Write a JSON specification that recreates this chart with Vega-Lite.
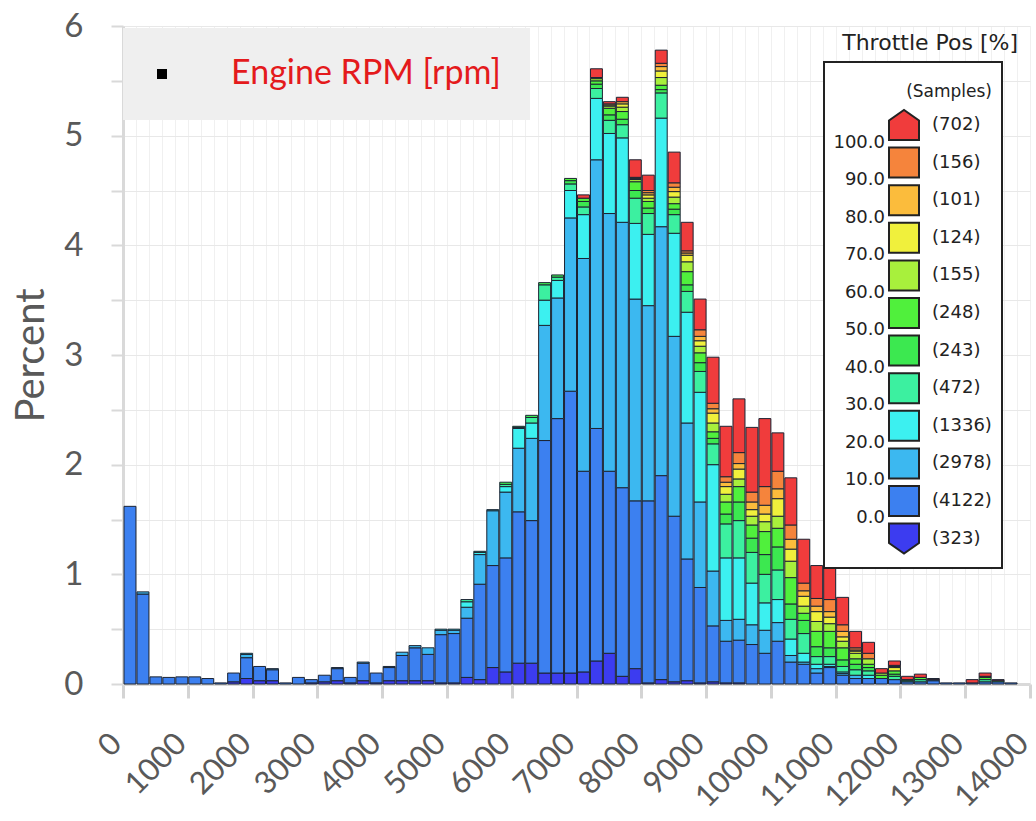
{
  "$schema": "https://vega.github.io/schema/vega-lite/v6.json",
  "width": 907,
  "height": 658,
  "autosize": {"type": "none"},
  "padding": {"left": 123, "top": 26, "right": 6, "bottom": 137},
  "background": "white",
  "title": {"text": "Throttle Pos [%]", "anchor": "end", "frame": "group", "orient": "top", "offset": 0, "dy": 45, "dx": -12, "font": "DejaVu Sans", "fontSize": 22, "fontWeight": "normal", "color": "#222222"},
  "config": {"view": {"stroke": null}},
  "layer": [
    {
      "data": {"values": [
        {"rpm": 0, "b01": 1.62},
        {"rpm": 200, "b01": 0.82, "b02": 0.02},
        {"rpm": 400, "b01": 0.065},
        {"rpm": 600, "b01": 0.06},
        {"rpm": 800, "b01": 0.065},
        {"rpm": 1000, "b01": 0.065},
        {"rpm": 1200, "b01": 0.05},
        {"rpm": 1400, "b01": 0.01},
        {"rpm": 1600, "b00": 0.02, "b01": 0.08},
        {"rpm": 1800, "b00": 0.05, "b01": 0.19, "b02": 0.03, "b03": 0.01},
        {"rpm": 2000, "b00": 0.03, "b01": 0.13},
        {"rpm": 2200, "b00": 0.03, "b01": 0.10, "b02": 0.01},
        {"rpm": 2400, "b01": 0.01},
        {"rpm": 2600, "b01": 0.06},
        {"rpm": 2800, "b00": 0.01, "b01": 0.03},
        {"rpm": 3000, "b00": 0.02, "b01": 0.06},
        {"rpm": 3200, "b00": 0.03, "b01": 0.11, "b02": 0.01},
        {"rpm": 3400, "b00": 0.01, "b01": 0.05},
        {"rpm": 3600, "b00": 0.03, "b01": 0.16, "b02": 0.01},
        {"rpm": 3800, "b00": 0.01, "b01": 0.09},
        {"rpm": 4000, "b00": 0.03, "b01": 0.12, "b02": 0.01},
        {"rpm": 4200, "b00": 0.03, "b01": 0.23, "b02": 0.03},
        {"rpm": 4400, "b00": 0.03, "b01": 0.30, "b02": 0.02},
        {"rpm": 4600, "b00": 0.03, "b01": 0.24, "b02": 0.06},
        {"rpm": 4800, "b00": 0.01, "b01": 0.44, "b02": 0.04, "b03": 0.01},
        {"rpm": 5000, "b00": 0.01, "b01": 0.45, "b02": 0.03, "b03": 0.01},
        {"rpm": 5200, "b00": 0.06, "b01": 0.54, "b02": 0.10, "b03": 0.05, "b04": 0.02},
        {"rpm": 5400, "b00": 0.04, "b01": 0.87, "b02": 0.27, "b03": 0.02, "b04": 0.01},
        {"rpm": 5600, "b00": 0.15, "b01": 0.93, "b02": 0.50, "b03": 0.01},
        {"rpm": 5800, "b00": 0.11, "b01": 1.04, "b02": 0.60, "b03": 0.05, "b04": 0.02, "b05": 0.02},
        {"rpm": 6000, "b00": 0.19, "b01": 1.38, "b02": 0.58, "b03": 0.18, "b04": 0.01, "b05": 0.01},
        {"rpm": 6200, "b00": 0.19, "b01": 1.30, "b02": 0.75, "b03": 0.14, "b04": 0.05, "b05": 0.02},
        {"rpm": 6400, "b00": 0.10, "b01": 2.12, "b02": 1.05, "b03": 0.23, "b04": 0.14, "b05": 0.02},
        {"rpm": 6600, "b00": 0.10, "b01": 2.32, "b02": 1.10, "b03": 0.16, "b04": 0.03, "b05": 0.02},
        {"rpm": 6800, "b00": 0.10, "b01": 2.57, "b02": 1.58, "b03": 0.25, "b04": 0.06, "b05": 0.03, "b06": 0.02},
        {"rpm": 7000, "b00": 0.11, "b01": 1.83, "b02": 1.94, "b03": 0.40, "b04": 0.07, "b05": 0.05, "b06": 0.03, "b11": 0.03},
        {"rpm": 7200, "b00": 0.21, "b01": 2.12, "b02": 2.45, "b03": 0.56, "b04": 0.09, "b05": 0.04, "b06": 0.03, "b07": 0.02, "b08": 0.01, "b11": 0.08},
        {"rpm": 7400, "b00": 0.28, "b01": 1.66, "b02": 2.35, "b03": 0.73, "b04": 0.12, "b05": 0.05, "b06": 0.06, "b07": 0.02, "b08": 0.01, "b09": 0.01, "b11": 0.02},
        {"rpm": 7600, "b00": 0.07, "b01": 1.72, "b02": 2.42, "b03": 0.77, "b04": 0.12, "b05": 0.05, "b06": 0.07, "b07": 0.04, "b08": 0.03, "b09": 0.02, "b11": 0.04},
        {"rpm": 7800, "b00": 0.14, "b01": 1.53, "b02": 1.84, "b03": 0.69, "b04": 0.23, "b05": 0.07, "b06": 0.08, "b07": 0.02, "b08": 0.01, "b09": 0.01, "b11": 0.16},
        {"rpm": 8000, "b00": 0.01, "b01": 1.66, "b02": 1.78, "b03": 0.65, "b04": 0.19, "b05": 0.05, "b06": 0.06, "b07": 0.03, "b08": 0.03, "b09": 0.02, "b10": 0.02, "b11": 0.14},
        {"rpm": 8200, "b00": 0.04, "b01": 1.86, "b02": 2.27, "b03": 0.99, "b04": 0.23, "b05": 0.03, "b06": 0.04, "b07": 0.07, "b08": 0.06, "b09": 0.04, "b10": 0.03, "b11": 0.12},
        {"rpm": 8400, "b00": 0.02, "b01": 1.51, "b02": 1.64, "b03": 0.94, "b04": 0.17, "b05": 0.05, "b06": 0.05, "b07": 0.06, "b08": 0.05, "b09": 0.04, "b10": 0.04, "b11": 0.28},
        {"rpm": 8600, "b00": 0.03, "b01": 1.11, "b02": 1.24, "b03": 1.01, "b04": 0.19, "b05": 0.06, "b06": 0.12, "b07": 0.09, "b08": 0.06, "b09": 0.02, "b10": 0.02, "b11": 0.26},
        {"rpm": 8800, "b00": 0.01, "b01": 0.87, "b02": 0.78, "b03": 1.00, "b04": 0.19, "b05": 0.08, "b06": 0.09, "b07": 0.06, "b08": 0.05, "b09": 0.04, "b10": 0.06, "b11": 0.28},
        {"rpm": 9000, "b00": 0.02, "b01": 0.51, "b02": 0.50, "b03": 0.97, "b04": 0.19, "b05": 0.05, "b06": 0.06, "b07": 0.08, "b08": 0.09, "b09": 0.04, "b10": 0.05, "b11": 0.42},
        {"rpm": 9200, "b00": 0.01, "b01": 0.38, "b02": 0.19, "b03": 0.57, "b04": 0.31, "b05": 0.09, "b06": 0.11, "b07": 0.07, "b08": 0.07, "b09": 0.04, "b10": 0.05, "b11": 0.46},
        {"rpm": 9400, "b00": 0.01, "b01": 0.39, "b02": 0.19, "b03": 0.56, "b04": 0.34, "b05": 0.17, "b06": 0.14, "b07": 0.07, "b08": 0.09, "b09": 0.05, "b10": 0.10, "b11": 0.49},
        {"rpm": 9600, "b01": 0.36, "b02": 0.18, "b03": 0.38, "b04": 0.28, "b05": 0.13, "b06": 0.12, "b07": 0.08, "b08": 0.06, "b09": 0.07, "b10": 0.09, "b11": 0.59},
        {"rpm": 9800, "b01": 0.28, "b02": 0.21, "b03": 0.25, "b04": 0.26, "b05": 0.18, "b06": 0.21, "b07": 0.09, "b08": 0.07, "b09": 0.08, "b10": 0.17, "b11": 0.62},
        {"rpm": 10000, "b01": 0.39, "b02": 0.17, "b03": 0.21, "b04": 0.27, "b05": 0.21, "b06": 0.17, "b07": 0.11, "b08": 0.16, "b09": 0.09, "b10": 0.16, "b11": 0.35},
        {"rpm": 10200, "b01": 0.20, "b02": 0.06, "b03": 0.15, "b04": 0.18, "b05": 0.14, "b06": 0.24, "b07": 0.15, "b08": 0.11, "b09": 0.09, "b10": 0.13, "b11": 0.43},
        {"rpm": 10400, "b01": 0.18, "b02": 0.02, "b03": 0.08, "b04": 0.18, "b05": 0.12, "b06": 0.065, "b07": 0.065, "b08": 0.09, "b09": 0.05, "b10": 0.07, "b11": 0.40},
        {"rpm": 10600, "b01": 0.10, "b02": 0.04, "b03": 0.04, "b04": 0.07, "b05": 0.09, "b06": 0.14, "b07": 0.09, "b08": 0.09, "b09": 0.05, "b10": 0.07, "b11": 0.30},
        {"rpm": 10800, "b01": 0.15, "b02": 0.01, "b03": 0.02, "b04": 0.07, "b05": 0.08, "b06": 0.15, "b07": 0.07, "b08": 0.06, "b09": 0.05, "b10": 0.11, "b11": 0.30},
        {"rpm": 11000, "b01": 0.08, "b02": 0.015, "b03": 0.015, "b04": 0.05, "b05": 0.06, "b06": 0.11, "b07": 0.06, "b08": 0.04, "b09": 0.05, "b10": 0.06, "b11": 0.25},
        {"rpm": 11200, "b01": 0.05, "b02": 0.03, "b04": 0.05, "b05": 0.05, "b06": 0.05, "b07": 0.05, "b08": 0.02, "b09": 0.01, "b10": 0.02, "b11": 0.15},
        {"rpm": 11400, "b01": 0.05, "b03": 0.03, "b04": 0.04, "b05": 0.03, "b06": 0.03, "b07": 0.05, "b10": 0.05, "b11": 0.10},
        {"rpm": 11600, "b01": 0.05, "b06": 0.03, "b07": 0.02, "b11": 0.04},
        {"rpm": 11800, "b01": 0.04, "b04": 0.03, "b05": 0.02, "b06": 0.03, "b08": 0.03, "b09": 0.01, "b10": 0.01, "b11": 0.04},
        {"rpm": 12000, "b01": 0.02, "b04": 0.01, "b06": 0.01, "b11": 0.03},
        {"rpm": 12200, "b01": 0.02, "b04": 0.02, "b06": 0.02, "b11": 0.03},
        {"rpm": 12400, "b01": 0.03, "b02": 0.01, "b11": 0.01},
        {"rpm": 12600, "b01": 0.01},
        {"rpm": 12800, "b01": 0.01},
        {"rpm": 13000, "b01": 0.01, "b11": 0.03},
        {"rpm": 13200, "b01": 0.02, "b04": 0.02, "b06": 0.02, "b09": 0.01, "b11": 0.03},
        {"rpm": 13400, "b01": 0.02, "b06": 0.01, "b11": 0.01},
        {"rpm": 13600, "b01": 0.01}
      ]},
      "transform": [
        {"fold": ["b00", "b01", "b02", "b03", "b04", "b05", "b06", "b07", "b08", "b09", "b10", "b11"], "as": ["band", "pct"]},
        {"filter": "datum.pct > 0"},
        {"bin": {"step": 200, "extent": [0, 14000]}, "field": "rpm", "as": ["rpm0", "rpm1"]}
      ],
      "mark": {"type": "bar", "stroke": "#1c2433", "strokeWidth": 1},
      "encoding": {
        "x": {
          "field": "rpm0", "type": "quantitative", "bin": {"binned": true},
          "scale": {"domain": [0, 14000], "nice": false, "zero": false},
          "axis": {
            "values": [0,200,400,600,800,1000,1200,1400,1600,1800,2000,2200,2400,2600,2800,3000,3200,3400,3600,3800,4000,4200,4400,4600,4800,5000,5200,5400,5600,5800,6000,6200,6400,6600,6800,7000,7200,7400,7600,7800,8000,8200,8400,8600,8800,9000,9200,9400,9600,9800,10000,10200,10400,10600,10800,11000,11200,11400,11600,11800,12000,12200,12400,12600,12800,13000,13200,13400,13600,13800,14000],
            "format": "d",
            "labelExpr": "datum.value % 1000 === 0 ? datum.label : ''",
            "labelAngle": -45, "labelAlign": "right", "labelBaseline": "alphabetic",
            "labelFont": "Lato", "labelFontSize": 31, "labelColor": "#595959",
            "labelPadding": 47, "labelOverlap": false, "labelFlush": false,
            "tickSize": 14, "tickWidth": 3,
            "tickColor": {"condition": {"test": "datum.value % 1000 === 0", "value": "#d4d4d4"}, "value": "transparent"},
            "domainColor": "#d9d9d9", "domainWidth": 3,
            "grid": true, "gridColor": "#f0f0f0", "gridWidth": 1,
            "title": null
          }
        },
        "x2": {"field": "rpm1"},
        "y": {
          "field": "pct", "type": "quantitative", "stack": "zero",
          "scale": {"domain": [0, 6], "nice": false},
          "axis": {
            "values": [0, 0.5, 1, 1.5, 2, 2.5, 3, 3.5, 4, 4.5, 5, 5.5, 6],
            "format": ".0f",
            "labelExpr": "datum.value % 1 === 0 ? datum.label : ''",
            "labelFont": "Lato", "labelFontSize": 33, "labelColor": "#595959",
            "labelPadding": 28, "labelOverlap": false,
            "tickSize": 12, "tickWidth": 2, "tickColor": "#d9d9d9",
            "domainColor": "#d9d9d9", "domainWidth": 3,
            "grid": true, "gridColor": "#e8e8e8",
            "title": "Percent", "titleFont": "Lato", "titleFontSize": 40, "titleFontWeight": "normal", "titleColor": "#595959", "titlePadding": 12
          }
        },
        "color": {
          "field": "band", "type": "nominal",
          "scale": {
            "domain": ["b11", "b10", "b09", "b08", "b07", "b06", "b05", "b04", "b03", "b02", "b01", "b00"],
            "range": ["#f03c3c", "#f5843c", "#fbbc3c", "#f0f03c", "#a8f03c", "#50f03c", "#3ce850", "#3cf0a0", "#3cf0f0", "#3cb8f0", "#3c80f0", "#3c3cf0"]
          },
          "legend": {
            "orient": "none", "legendX": 701, "legendY": 36,
            "title": ["", "(Samples)"], "titleLineHeight": 12, "titleFont": "DejaVu Sans", "titleFontSize": 17, "titleFontWeight": "normal", "titleColor": "#222222", "titleAnchor": "end", "titlePadding": 8,
            "labelFont": "DejaVu Sans", "labelFontSize": 18, "labelColor": "#222222", "labelOffset": 12,
            "labelExpr": "['(323)','(4122)','(2978)','(1336)','(472)','(243)','(248)','(155)','(124)','(101)','(156)','(702)'][indexof(['b00','b01','b02','b03','b04','b05','b06','b07','b08','b09','b10','b11'], datum.value)]",
            "symbolType": "square", "symbolSize": 900, "symbolStrokeColor": "#222222", "symbolStrokeWidth": 2, "symbolOffset": 54, "symbolOpacity": 1,
            "rowPadding": -0.4,
            "strokeColor": "#222222", "fillColor": "white", "padding": 10,
            "encode": {
              "symbols": {"update": {"shape": {"signal": "datum.value === 'b11' ? 'M-1,1L1,1L1,-0.3L0,-1L-1,-0.3Z' : (datum.value === 'b00' ? 'M-1,-1L1,-1L1,0.3L0,1L-1,0.3Z' : 'square')"}}},
              "legend": {"update": {"strokeWidth": {"value": 2}}}
            }
          }
        },
        "order": {"field": "band", "sort": "ascending"}
      }
    },
    {
      "data": {"values": [{"series": "Engine RPM [rpm]"}]},
      "mark": {"type": "point", "opacity": 0, "filled": true, "color": "black"},
      "encoding": {
        "shape": {
          "field": "series", "type": "nominal",
          "scale": {"range": ["square"]},
          "legend": {
            "orient": "none", "legendX": 0, "legendY": 2, "title": null,
            "fillColor": "#efefef", "padding": 29,
            "labelFont": "Lato", "labelFontSize": 34, "labelColor": "#e41a1c", "labelOffset": 52, "labelLimit": 700,
            "symbolOffset": -7, "symbolSize": 100, "symbolFillColor": "black", "symbolStrokeColor": "black", "symbolOpacity": 1,
            "encode": {"symbols": {"update": {"opacity": {"value": 1}, "fill": {"value": "black"}}}}
          }
        }
      }
    },
    {
      "data": {"values": [{"bound": "100.0"}, {"bound": "90.0"}, {"bound": "80.0"}, {"bound": "70.0"}, {"bound": "60.0"}, {"bound": "50.0"}, {"bound": "40.0"}, {"bound": "30.0"}, {"bound": "20.0"}, {"bound": "10.0"}, {"bound": "0.0"}]},
      "mark": {"type": "point", "opacity": 0},
      "encoding": {
        "strokeDash": {
          "field": "bound", "type": "nominal",
          "scale": {"domain": ["100.0", "90.0", "80.0", "70.0", "60.0", "50.0", "40.0", "30.0", "20.0", "10.0", "0.0"]},
          "legend": {
            "orient": "none", "legendX": 730, "legendY": 102, "title": null, "padding": 0,
            "symbolType": "square", "symbolSize": 900, "symbolOpacity": 0, "symbolStrokeWidth": 0,
            "rowPadding": 7.45, "labelAlign": "right", "labelOffset": 2,
            "labelFont": "DejaVu Sans", "labelFontSize": 18, "labelColor": "#222222",
            "encode": {"symbols": {"update": {"opacity": {"value": 0}}}}
          }
        }
      }
    }
  ]
}
